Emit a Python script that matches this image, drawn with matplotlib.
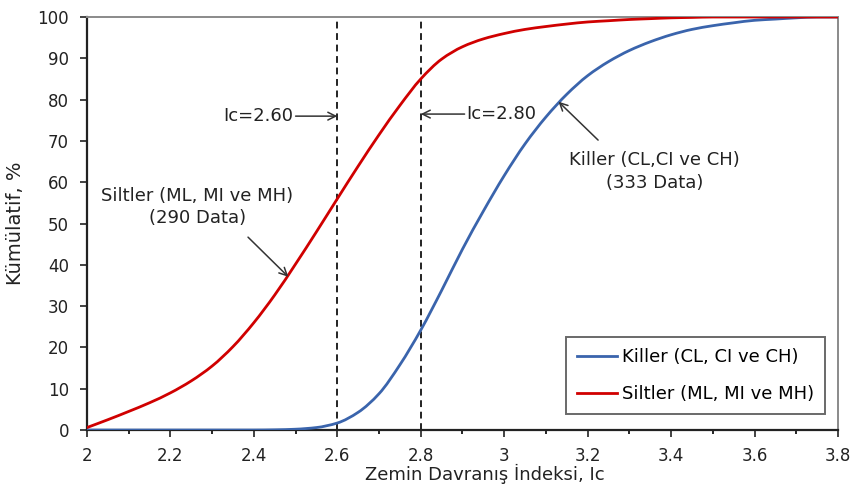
import matplotlib
matplotlib.use("Agg")
import numpy as np
import matplotlib.pyplot as plt
from matplotlib.path import Path
from matplotlib.patches import PathPatch
from matplotlib.lines import Line2D
from matplotlib.ticker import MultipleLocator

plt.rcParams['font.family'] = ['DejaVu Sans']

# Cumulative distributions of the soil behaviour type index Ic
ic = [2.00, 2.05, 2.10, 2.15, 2.20, 2.25, 2.30, 2.35, 2.40, 2.45,
      2.50, 2.55, 2.60, 2.65, 2.70, 2.75, 2.80, 2.85, 2.90, 2.95,
      3.00, 3.05, 3.10, 3.15, 3.20, 3.25, 3.30, 3.35, 3.40, 3.45,
      3.50, 3.55, 3.60, 3.65, 3.70, 3.75, 3.80]

siltler = [0.6, 2.5, 4.5, 6.6, 9.0, 11.9, 15.5, 20.2, 26.0, 32.7,
           40.2, 48.0, 56.0, 63.9, 71.5, 78.6, 85.0, 89.8, 92.8, 94.7,
           96.0, 97.0, 97.7, 98.3, 98.8, 99.1, 99.4, 99.6, 99.8, 99.9,
           100, 100, 100, 100, 100, 100, 100]

killer = [0, 0, 0, 0, 0, 0, 0, 0, 0, 0.05,
          0.2, 0.6, 1.7, 4.3, 8.8, 15.8, 24.2, 33.8, 43.8, 53.0,
          61.6, 69.3, 75.8, 81.3, 85.8, 89.2, 91.9, 94.0, 95.7, 97.0,
          97.9, 98.6, 99.2, 99.5, 99.8, 100, 100]

label_killer = "Killer (CL, CI ve CH)"
label_siltler = "Siltler (ML, MI ve MH)"
ic_lines = [2.60, 2.80]


def smooth_path(xs, ys):
    """Smoothed line through the points (monotone cubic Bezier segments)."""
    x = np.asarray(xs, float)
    y = np.asarray(ys, float)
    h = np.diff(x)
    d = np.diff(y) / h
    m = np.zeros_like(y)
    m[0], m[-1] = d[0], d[-1]
    for i in range(1, len(x) - 1):
        if d[i - 1] * d[i] > 0:
            w1 = 2 * h[i] + h[i - 1]
            w2 = h[i] + 2 * h[i - 1]
            m[i] = (w1 + w2) / (w1 / d[i - 1] + w2 / d[i])
    verts = [(x[0], y[0])]
    codes = [Path.MOVETO]
    for i in range(len(x) - 1):
        verts += [(x[i] + h[i] / 3, y[i] + m[i] * h[i] / 3),
                  (x[i + 1] - h[i] / 3, y[i + 1] - m[i + 1] * h[i] / 3),
                  (x[i + 1], y[i + 1])]
        codes += [Path.CURVE4] * 3
    return Path(verts, codes)


fig = plt.figure(figsize=(8.56, 4.96), dpi=100)
ax = fig.add_axes([0.1016, 0.133, 0.8774, 0.8327])

series = [(killer, '#3A64AC', label_killer), (siltler, '#D00000', label_siltler)]
handles = []
for vals, col, lab in series:
    ax.add_patch(PathPatch(smooth_path(ic, vals), fill=False, edgecolor=col,
                           lw=2.0, zorder=3, capstyle='round', joinstyle='round'))
    handles.append(Line2D([], [], color=col, lw=2.0, label=lab))

for xv in ic_lines:
    ax.axvline(xv, color='#222222', lw=1.4, ls=(0, (3.5, 2.4)), zorder=2)

ax.set_xlim(2, 3.8)
ax.set_ylim(0, 100)
ax.xaxis.set_minor_locator(MultipleLocator(0.1))
ax.yaxis.set_major_locator(MultipleLocator(10))
ax.set_xticks([2, 2.2, 2.4, 2.6, 2.8, 3, 3.2, 3.4, 3.6, 3.8])
ax.set_xticklabels(['2', '2.2', '2.4', '2.6', '2.8', '3', '3.2', '3.4', '3.6', '3.8'])

ax.tick_params(axis='both', which='major', direction='out', length=5,
               width=1.2, labelsize=12, colors='#222222')
ax.tick_params(axis='y', which='major', pad=8)
ax.tick_params(axis='x', which='major', pad=7)
ax.tick_params(axis='x', which='minor', direction='out', length=3, width=1.2)

for side in ('left', 'bottom'):
    ax.spines[side].set_color('#222222')
    ax.spines[side].set_linewidth(1.6)
for side in ('top', 'right'):
    ax.spines[side].set_color('#8a8a8a')
    ax.spines[side].set_linewidth(1.4)

ax.set_xlabel("Zemin Davranış İndeksi, Ic", fontsize=13, color='#222222')
ax.xaxis.set_label_coords(0.53, -0.082)
ax.set_ylabel("Kümülatif, %", fontsize=14, color='#222222')
ax.yaxis.set_label_coords(-0.083, 0.5)

arrow = dict(arrowstyle='->', color='#333333', lw=1.1, mutation_scale=14,
             shrinkA=0, shrinkB=0)
fs = 13

ax.annotate("", xy=(2.60, 76), xytext=(2.50, 76), arrowprops=arrow)
ax.text(2.495, 76, "Ic=2.60", fontsize=fs, ha='right', va='center', color='#222222')

ax.annotate("", xy=(2.80, 76.5), xytext=(2.905, 76.5), arrowprops=arrow)
ax.text(2.91, 76.5, "Ic=2.80", fontsize=fs, ha='left', va='center', color='#222222')

ax.annotate("", xy=(3.130, 79.5), xytext=(3.225, 70.2), arrowprops=arrow)
ax.text(3.36, 62.5, "Killer (CL,CI ve CH)\n(333 Data)", fontsize=fs,
        ha='center', va='center', color='#222222', linespacing=1.35)

ax.annotate("", xy=(2.4826, 37.1), xytext=(2.386, 46.7), arrowprops=arrow)
ax.text(2.265, 54.0, "Siltler (ML, MI ve MH)\n(290 Data)", fontsize=fs,
        ha='center', va='center', color='#222222', linespacing=1.35)

leg = ax.legend(handles=handles, loc='lower right', bbox_to_anchor=(0.983, 0.039),
                fontsize=fs, frameon=True, fancybox=False, handlelength=2.2,
                handletextpad=0.3, labelspacing=1.05, borderpad=0.6, borderaxespad=0)
leg.get_frame().set_edgecolor('#444444')
leg.get_frame().set_linewidth(1.4)

fig.savefig("out.png", dpi=100)
